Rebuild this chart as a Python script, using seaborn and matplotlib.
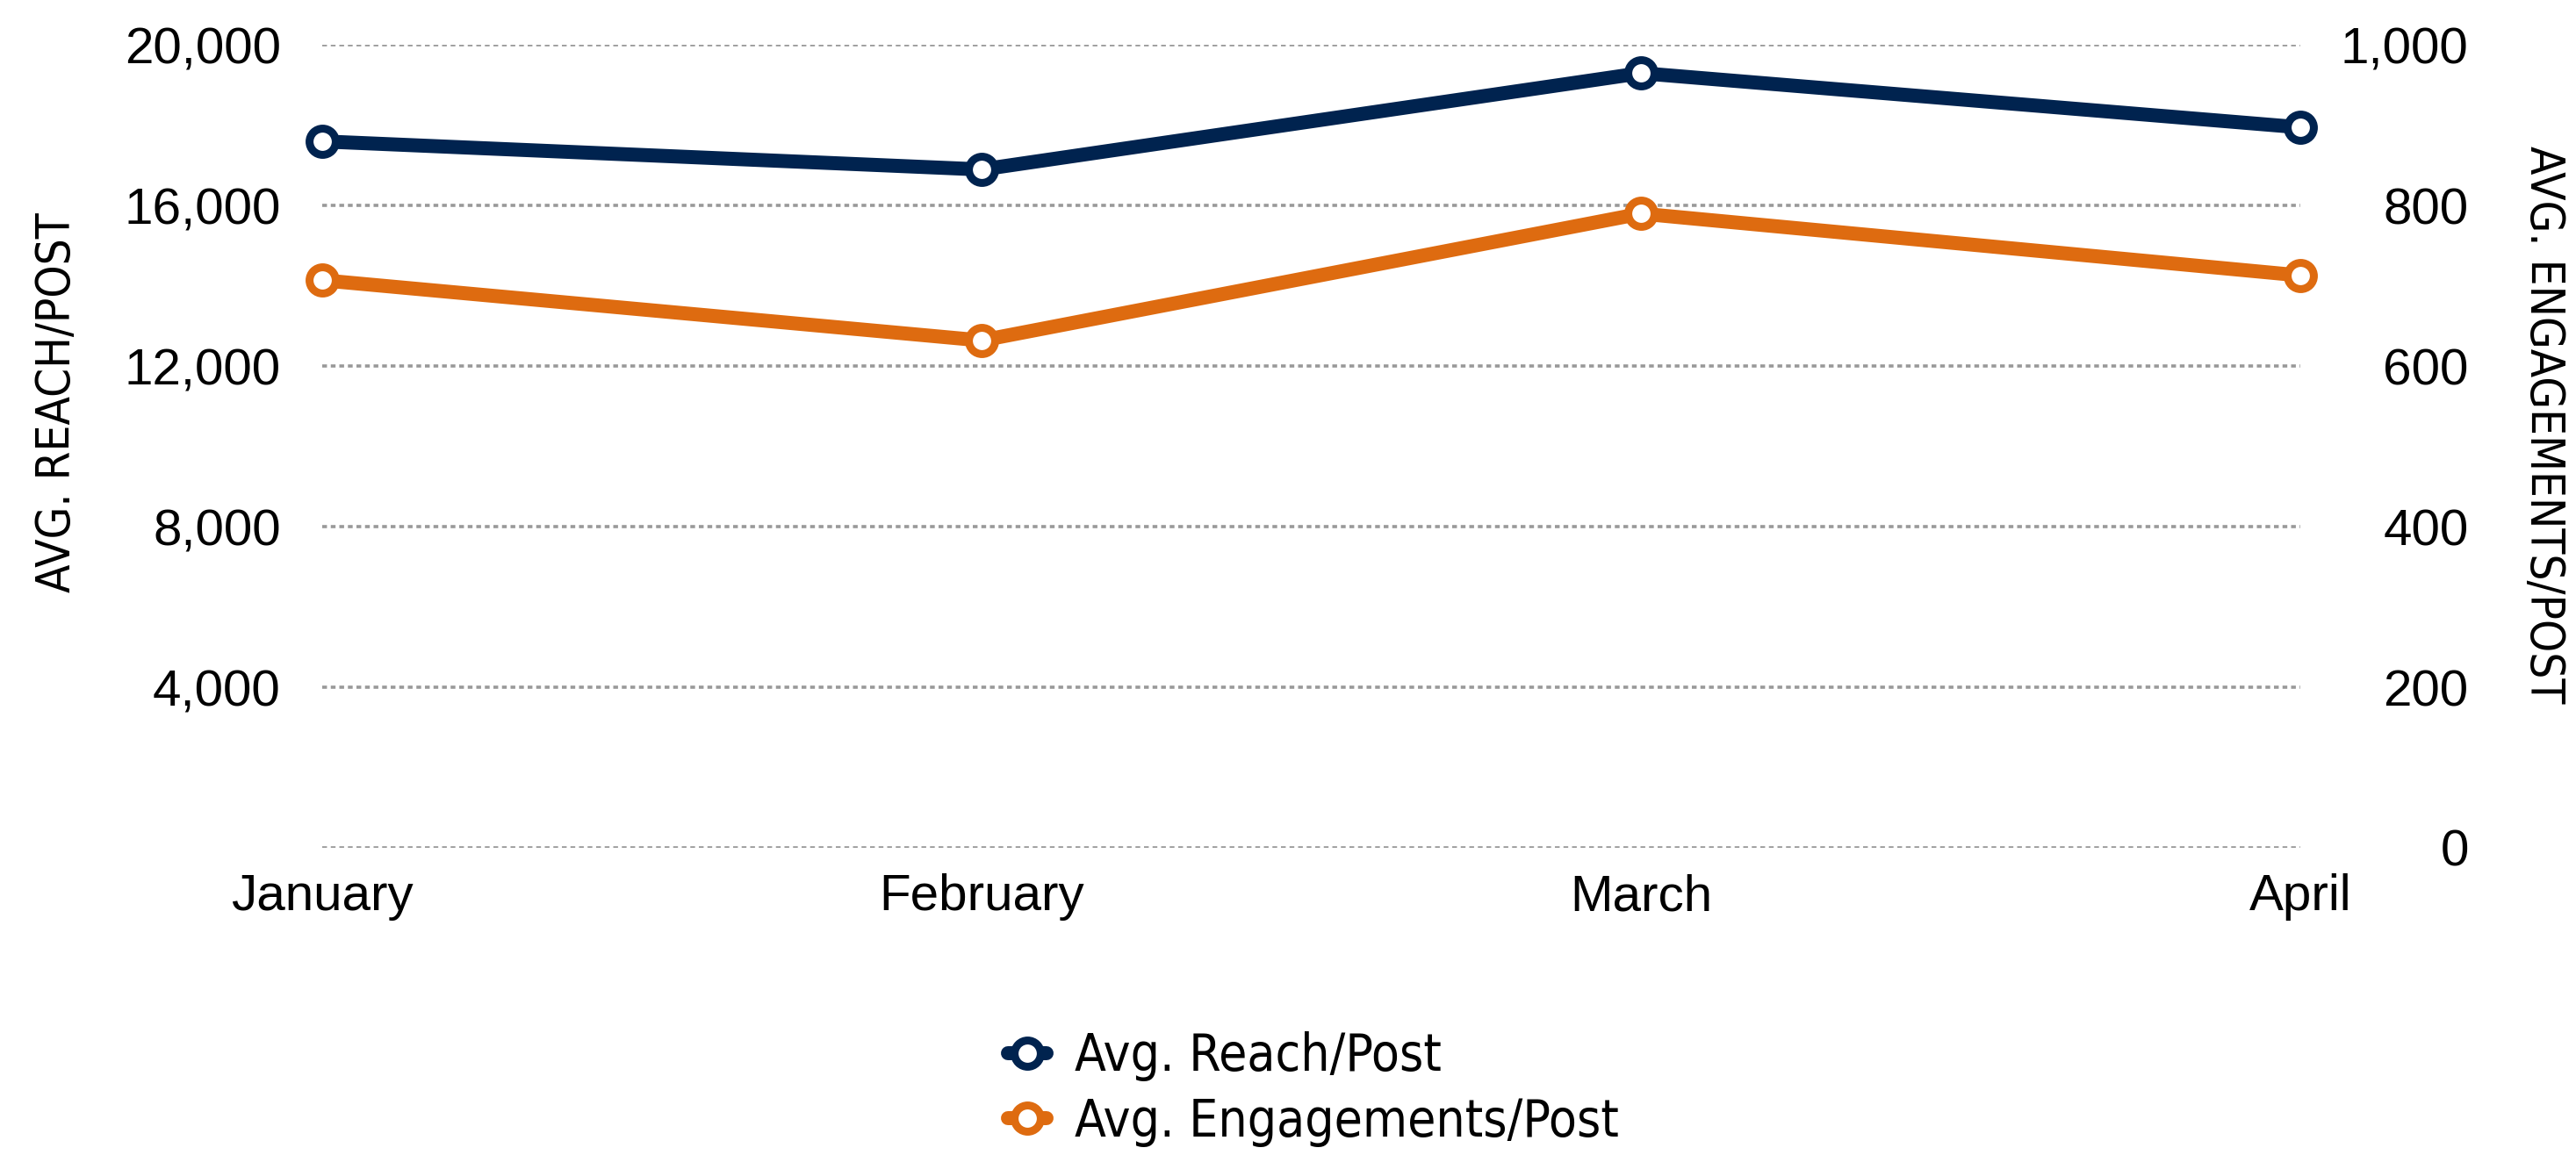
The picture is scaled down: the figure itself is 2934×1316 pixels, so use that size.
import matplotlib
matplotlib.use("Agg")
import matplotlib.pyplot as plt
import seaborn as sns
import pandas as pd
from matplotlib import font_manager

# data
months = ["January", "February", "March", "April"]
reach = [17600, 16900, 19300, 17950]
engagements = [707, 632, 790, 713]

reach_ticks = [0, 4000, 8000, 12000, 16000, 20000]
reach_ticklabels = ["", "4,000", "8,000", "12,000", "16,000", "20,000"]
eng_ticks = [0, 200, 400, 600, 800, 1000]
eng_ticklabels = ["0", "200", "400", "600", "800", "1,000"]

NAVY = "#00234F"
ORANGE = "#DE6B10"

sns.set_theme(style="white")

installed = {f.name for f in font_manager.fontManager.ttflist}
if "Liberation Sans Narrow" in installed:
    narrow = dict(family="Liberation Sans Narrow")
    legend_size, label_size = 49, 40
else:
    narrow = dict(family="DejaVu Sans", stretch="condensed")
    legend_size, label_size = 42, 38
plt.rcParams["font.family"] = ["Liberation Sans", "DejaVu Sans"]

df = pd.DataFrame({"month": months, "reach": reach, "eng": engagements})

fig = plt.figure(figsize=(29.34, 13.16), dpi=100)
ax = fig.add_subplot(111)
fig.subplots_adjust(left=0.1251, right=0.893, bottom=0.266, top=0.961)
ax2 = ax.twinx()

line_kw = dict(marker="o", markersize=21.5, markerfacecolor="white",
               markeredgewidth=6.5, linewidth=11.5, clip_on=False, legend=False)
sns.lineplot(data=df, x="month", y="reach", ax=ax, color=NAVY,
             markeredgecolor=NAVY, label="Avg. Reach/Post", **line_kw)
sns.lineplot(data=df, x="month", y="eng", ax=ax2, color=ORANGE,
             markeredgecolor=ORANGE, label="Avg. Engagements/Post", **line_kw)

ax.set_xlim(0, len(months) - 1)
ax.set_ylim(0, 20000)
ax2.set_ylim(0, 1000)
ax.set_yticks(reach_ticks, reach_ticklabels)
ax2.set_yticks(eng_ticks, eng_ticklabels)
ax.set_xticks(range(len(months)), months)

ax.grid(axis="y", color="#999999", linewidth=2.6, linestyle=(0, (1.5, 1.2)))
ax.grid(axis="x", visible=False)
ax2.grid(False)

for a in (ax, ax2):
    for s in a.spines.values():
        s.set_visible(False)
    a.set_xlabel("")

ax.tick_params(axis="y", length=0, pad=34, labelsize=42, labelcolor="black")
ax.tick_params(axis="x", length=0, pad=21, labelsize=42, labelcolor="black")
ax2.tick_params(axis="y", length=0, pad=138, labelsize=42, labelcolor="black")
for t in ax2.get_yticklabels():
    t.set_horizontalalignment("right")

ax.set_ylabel("AVG. REACH/POST", fontsize=label_size, color="black", rotation=90,
              va="center", ha="center", **narrow)
ax.yaxis.set_label_coords(-0.134, 0.555)
ax2.set_ylabel("AVG. ENGAGEMENTS/POST", fontsize=label_size, color="black",
               rotation=270, va="center", ha="center", **narrow)
ax2.yaxis.set_label_coords(1.123, 0.527)

handles = ax.get_lines() + ax2.get_lines()
labels = [h.get_label() for h in handles]
fig.legend(handles, labels, loc="center", bbox_to_anchor=(0.51, 0.057),
           frameon=False, handlelength=0.75, handletextpad=0.55,
           labelspacing=0.3, labelcolor="black",
           prop=dict(size=legend_size, **narrow))

fig.savefig("out.png", dpi=100)
